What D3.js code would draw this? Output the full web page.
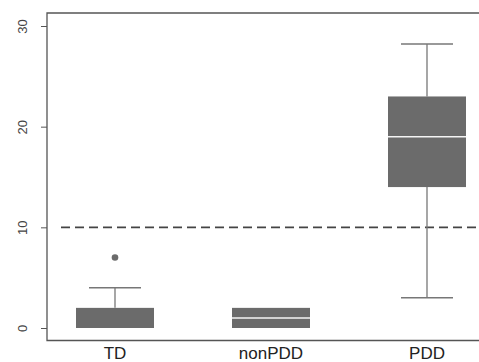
<!DOCTYPE html>
<html>
<head>
<meta charset="utf-8">
<script src="https://cdn.jsdelivr.net/npm/d3@7"></script>
<style>
  body { margin: 0; background: #fff; }
  svg { display: block; font-family: "Liberation Sans", Arial, sans-serif; }
</style>
</head>
<body>
<div class="canva"></div>
<script>
const groups = ["TD", "nonPDD", "PDD"];
const lowWhisker = [0, 0, 3];
const q1 = [0, 0, 14];
const median = [0, 1, 19];
const q3 = [2, 2, 23];
const highWhisker = [4, 2, 28.2];
const outliers = [{ g: "TD", v: 7 }];
const yTicks = [0, 10, 20, 30];
const cutoff = 10;

const data = groups.map((g, i) => ({
  g, lo: lowWhisker[i], q1: q1[i], med: median[i], q3: q3[i], hi: highWhisker[i]
}));

const svg = d3.select(".canva").append("svg")
  .attr("width", 479)
  .attr("height", 362);

const y = d3.scaleLinear()
  .domain([0, 30])
  .range([328, 26]);

const x = d3.scaleBand()
  .domain(groups)
  .range([37, 505]);

const boxW = x.bandwidth() * 0.5;
const cx = g => x(g) + x.bandwidth() / 2;

// frame
svg.append("path")
  .attr("d", "M490,13H47V340.5H490")
  .attr("fill", "none")
  .attr("stroke", "#555")
  .attr("stroke-width", 1.3);

// y axis
const yAxis = svg.append("g")
  .attr("transform", "translate(47,0)")
  .call(d3.axisLeft(y).tickValues(yTicks).tickSize(6));
yAxis.select(".domain").remove();
yAxis.selectAll("line").attr("stroke", "#555");
yAxis.selectAll("text")
  .attr("x", -20)
  .attr("y", 0)
  .attr("dy", 0)
  .attr("transform", "rotate(-90,-20,0)")
  .style("text-anchor", "middle")
  .attr("font-size", 13)
  .attr("fill", "#444");

// cutoff line
svg.append("line")
  .attr("x1", 61).attr("x2", 479)
  .attr("y1", y(cutoff)).attr("y2", y(cutoff))
  .attr("stroke", "#444")
  .attr("stroke-width", 1.6)
  .attr("stroke-dasharray", "9,5");

const box = svg.selectAll(".box")
  .data(data)
  .enter().append("g")
  .attr("class", "box");

// whiskers
box.append("line")
  .attr("x1", d => cx(d.g)).attr("x2", d => cx(d.g))
  .attr("y1", d => y(d.q3)).attr("y2", d => y(d.hi))
  .attr("stroke", "#777").attr("stroke-width", 1.3);
box.append("line")
  .attr("x1", d => cx(d.g)).attr("x2", d => cx(d.g))
  .attr("y1", d => y(d.q1)).attr("y2", d => y(d.lo))
  .attr("stroke", "#777").attr("stroke-width", 1.3);
box.filter(d => d.hi > d.q3).append("line")
  .attr("x1", d => cx(d.g) - boxW / 3).attr("x2", d => cx(d.g) + boxW / 3)
  .attr("y1", d => y(d.hi)).attr("y2", d => y(d.hi))
  .attr("stroke", "#777").attr("stroke-width", 1.5);
box.filter(d => d.lo < d.q1).append("line")
  .attr("x1", d => cx(d.g) - boxW / 3).attr("x2", d => cx(d.g) + boxW / 3)
  .attr("y1", d => y(d.lo)).attr("y2", d => y(d.lo))
  .attr("stroke", "#777").attr("stroke-width", 1.5);

// boxes
box.append("rect")
  .attr("x", d => cx(d.g) - boxW / 2)
  .attr("width", boxW)
  .attr("y", d => y(d.q3))
  .attr("height", d => y(d.q1) - y(d.q3))
  .attr("fill", "#6b6b6b");

// medians
box.filter(d => d.med > d.q1).append("line")
  .attr("x1", d => cx(d.g) - boxW / 2).attr("x2", d => cx(d.g) + boxW / 2)
  .attr("y1", d => y(d.med)).attr("y2", d => y(d.med))
  .attr("stroke", "#f4f4f4").attr("stroke-width", 1.5);

// outliers
svg.selectAll(".out")
  .data(outliers)
  .enter().append("circle")
  .attr("cx", d => cx(d.g))
  .attr("cy", d => y(d.v))
  .attr("r", 3.3)
  .attr("fill", "#6b6b6b");

// category labels
svg.selectAll(".cat")
  .data(groups)
  .enter().append("text")
  .attr("x", d => cx(d))
  .attr("y", 359)
  .attr("text-anchor", "middle")
  .attr("font-size", 17)
  .attr("fill", "#222")
  .text(d => d);
</script>
</body>
</html>
